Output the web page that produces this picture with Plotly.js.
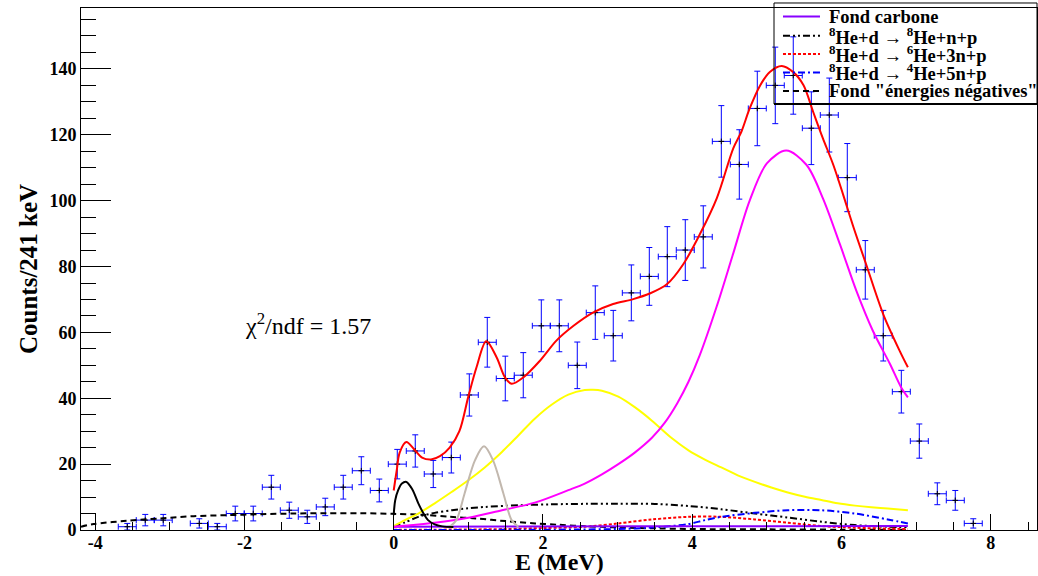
<!DOCTYPE html>
<html>
<head>
<meta charset="utf-8">
<script src="https://cdn.plot.ly/plotly-3.0.1.min.js"></script>
<style>html,body{margin:0;padding:0;background:#fff;}</style>
</head>
<body>
<div id="chart" style="width:1038px;height:576px;"></div>
<script>
// ---- measured spectrum (bin centres in MeV, counts per 241 keV) ----
const binEnergy = [-3.570, -3.329, -3.088, -2.605, -2.364, -2.123, -1.882, -1.640, -1.399, -1.158,
  -0.917, -0.676, -0.434, -0.193, 0.048, 0.289, 0.530, 0.772, 1.013, 1.254,
  1.495, 1.736, 1.978, 2.219, 2.460, 2.701, 2.942, 3.184, 3.425, 3.666,
  3.907, 4.148, 4.390, 4.631, 4.872, 5.113, 5.354, 5.596, 5.837, 6.078,
  6.319, 6.560, 6.802, 7.043, 7.284, 7.525, 7.766];
const binCounts = [1, 3, 3, 2, 1, 5, 5, 13, 6, 4,
  7, 13, 18, 12, 20, 24, 17, 22, 41, 57,
  46, 47, 62, 62, 50, 66, 59, 72, 77, 83,
  85, 89, 118, 111, 128, 135, 138, 122, 126, 107,
  79, 59, 42, 27, 11, 9, 2];
const halfBinWidth = 0.1205;

// ---- fit curves ----
const totalE = [0, 0.04, 0.08, 0.17, 0.27, 0.38, 0.50, 0.62, 0.75, 0.88, 1.0, 1.11, 1.24, 1.38, 1.49, 1.58, 1.74, 1.96, 2.18, 2.41, 2.67, 2.94, 3.21, 3.43, 3.66, 3.88, 4.10, 4.33, 4.55, 4.66, 4.77, 4.91, 5.04, 5.20, 5.35, 5.49, 5.62, 5.75, 5.89, 6.02, 6.16, 6.33, 6.56, 6.78, 6.89];
const totalC = [12, 18, 23.5, 26.7, 24.6, 22, 21.4, 22.4, 25, 30, 40.5, 49.4, 57.3, 52.4, 46.4, 44.4, 46.4, 51.4, 57.5, 62, 66, 68.6, 70.1, 71.8, 74.6, 80.7, 89.7, 100.8, 115.9, 121, 128, 135, 139.1, 140.9, 139.1, 135.1, 127, 119, 110.9, 102, 92, 80.7, 65.5, 54.4, 49.4];

const peakE = [0, 0.55, 1.0, 1.45, 1.89, 2.34, 2.56, 2.79, 3.01, 3.23, 3.46, 3.63, 3.80, 3.95, 4.10, 4.33, 4.55, 4.77, 5.0, 5.26, 5.53, 5.75, 5.98, 6.20, 6.42, 6.65, 6.80, 6.89];
const peakC = [1, 2.2, 3.7, 6, 8.3, 12.1, 14.1, 16.9, 20.0, 23.5, 28.0, 32.5, 38.5, 45.0, 53.0, 68.0, 84.0, 100.0, 111.3, 115.2, 110.9, 100.8, 86.7, 72.6, 60.5, 50.4, 43.3, 40.3];

const broadE = [0, 0.15, 0.33, 0.55, 0.78, 1.0, 1.22, 1.45, 1.67, 1.89, 2.12, 2.34, 2.56, 2.67, 2.79, 3.01, 3.23, 3.46, 3.72, 3.95, 4.17, 4.39, 4.61, 4.84, 5.06, 5.28, 5.51, 5.73, 5.95, 6.18, 6.40, 6.62, 6.89];
const broadC = [1.2, 3, 5, 8.1, 11.6, 15.1, 19, 23.7, 28.7, 33.8, 38.1, 41.1, 42.5, 42.6, 42.3, 40.5, 37.3, 33.2, 28, 24.2, 21.4, 19, 16.6, 14.6, 12.9, 11.4, 10.1, 9.1, 8.1, 7.4, 6.9, 6.5, 6];

const lowPeakE = [0, 0.02, 0.06, 0.11, 0.17, 0.25, 0.33, 0.40, 0.46, 0.55, 0.65, 0.80];
const lowPeakC = [4.5, 9, 12.1, 14.1, 14.6, 12.3, 8.1, 5, 3, 1.7, 1.1, 0.9];

const midPeakE = [0.75, 0.84, 0.95, 1.09, 1.21, 1.33, 1.47, 1.58, 1.67];
const midPeakC = [1, 3, 11.1, 21.2, 25.4, 21.2, 11.1, 3, 1];

const carbonE = [0, 3.5, 6.89];
const carbonC = [1.0, 1.15, 1.2];

const np8E = [0, 0.15, 0.33, 0.55, 0.78, 1.0, 1.22, 1.67, 2.12, 2.6, 3.0, 3.5, 3.95, 4.39, 4.84, 5.28, 5.73, 6.18, 6.62, 6.89];
const np8C = [1, 2.3, 4.0, 5.2, 6.0, 6.6, 7.0, 7.5, 7.8, 7.95, 8.0, 7.9, 7.3, 6.3, 5, 3.8, 2.5, 1.5, 1.0, 0.9];

const he6E = [0, 0.5, 1.0, 1.5, 2.0, 2.56, 3.01, 3.46, 3.95, 4.39, 4.84, 5.28, 5.73, 6.18, 6.62, 6.89];
const he6C = [0.05, 0.1, 0.15, 0.3, 0.6, 1.0, 2.0, 3.2, 4.0, 4.0, 3.2, 2.2, 1.2, 0.7, 0.4, 0.3];

const he4E = [0, 1.0, 2.0, 2.5, 3.0, 3.5, 3.95, 4.17, 4.39, 4.84, 5.28, 5.73, 6.18, 6.62, 6.89];
const he4C = [0, 0.02, 0.08, 0.15, 0.3, 0.8, 1.8, 3.0, 4.0, 5.2, 6.0, 6.0, 5.0, 3.2, 2.0];

const negE = [-4.19, -4.02, -3.58, -3.13, -2.68, -2.24, -1.79, -1.34, -0.90, -0.45, 0, 0.40, 0.75, 1.10, 1.50, 1.90, 2.20, 2.50, 3.0, 3.5, 4.0, 5.0, 6.0, 6.89];
const negC = [1, 1.8, 2.8, 3.5, 4.2, 4.5, 4.8, 5.0, 5.1, 5.1, 4.9, 4.6, 4.0, 3.5, 2.7, 2.0, 1.6, 1.2, 0.8, 0.5, 0.3, 0.2, 0.1, 0.1];

const legendLabels = [
  'Fond carbone',
  '<sup>8</sup>He+d \u2192 <sup>8</sup>He+n+p',
  '<sup>8</sup>He+d \u2192 <sup>6</sup>He+3n+p',
  '<sup>8</sup>He+d \u2192 <sup>4</sup>He+5n+p',
  'Fond "\u00e9nergies n\u00e9gatives"'
];
const xTickVals = [-4, -2, 0, 2, 4, 6, 8];
const yTickVals = [0, 20, 40, 60, 80, 100, 120, 140];

// ---- styles ----
const serif = 'Liberation Serif, Times New Roman, serif';
const legendStyles = [
  {color: '#8800ff', dash: 'solid'},
  {color: '#000000', dash: '7px,3px,2px,3px,2px,3px'},
  {color: '#ff0000', dash: '3px,2px'},
  {color: '#0000ff', dash: '7px,3px,2px,3px'},
  {color: '#000000', dash: '6px,4px'}
];

function curve(x, y, color, dash, width) {
  return {x: x, y: y, type: 'scatter', mode: 'lines', showlegend: false, hoverinfo: 'skip',
    line: {color: color, width: width || 2, dash: dash || 'solid', shape: 'spline', smoothing: 0.9}};
}

const traces = [
  {x: binEnergy, y: binCounts, type: 'scatter', mode: 'markers', showlegend: false,
    marker: {symbol: 'cross-thin', size: 4, color: '#000000', line: {color: '#000000', width: 1}},
    error_y: {type: 'sqrt', color: '#0000ff', thickness: 1, width: 3},
    error_x: {type: 'constant', value: halfBinWidth, color: '#0000ff', thickness: 1, width: 3}},
  curve(negE, negC, legendStyles[4].color, legendStyles[4].dash),
  curve(np8E, np8C, legendStyles[1].color, legendStyles[1].dash),
  curve(he6E, he6C, legendStyles[2].color, legendStyles[2].dash),
  curve(he4E, he4C, legendStyles[3].color, legendStyles[3].dash),
  curve(carbonE, carbonC, legendStyles[0].color, 'solid'),
  curve(totalE, totalC, '#ff0000', 'solid'),
  curve(broadE, broadC, '#ffff00', 'solid'),
  curve(peakE, peakC, '#ff00ff', 'solid'),
  curve(midPeakE, midPeakC, '#c2b8ae', 'solid'),
  curve(lowPeakE, lowPeakC, '#000000', 'solid')
];

// legend geometry (paper coordinates)
const legX0 = 0.7249, legX1 = 1.0, legY0 = 0.8161, legY1 = 1.0096;
const entryY = [0.9835, 0.9470, 0.9120, 0.8765, 0.8410];
const shapes = [
  {type: 'rect', xref: 'paper', yref: 'paper', x0: legX0, x1: legX1, y0: legY0, y1: legY1,
    line: {color: '#000000', width: 1}, fillcolor: 'rgba(0,0,0,0)', layer: 'above'},
  {type: 'line', xref: 'paper', yref: 'paper', x0: legX0, x1: legX1, y0: legY0, y1: legY0,
    line: {color: '#000000', width: 2}, layer: 'above'}
];
const annotations = [];
legendLabels.forEach(function (lab, i) {
  shapes.push({type: 'line', xref: 'paper', yref: 'paper', x0: 0.7343, x1: 0.7730,
    y0: entryY[i], y1: entryY[i], line: {color: legendStyles[i].color, width: 2, dash: legendStyles[i].dash}, layer: 'above'});
  annotations.push({xref: 'paper', yref: 'paper', x: 0.7800, y: entryY[i], xanchor: 'left', yanchor: 'middle',
    text: lab, showarrow: false, font: {family: serif, size: 18.5, color: '#000000', weight: 'bold'}});
});
annotations.push({xref: 'paper', yref: 'paper', x: 0.1695, y: 0.3946, xanchor: 'left', yanchor: 'middle',
  text: '\u03c7<sup>2</sup>/ndf = 1.57', showarrow: false, font: {family: serif, size: 24, color: '#000000'}});
annotations.push({xref: 'paper', yref: 'paper', x: 0.5, y: -0.0613, xanchor: 'center', yanchor: 'middle',
  text: 'E (MeV)', showarrow: false, font: {family: serif, size: 24, color: '#000000', weight: 'bold'}});
annotations.push({xref: 'paper', yref: 'paper', x: -0.0554, y: 0.5, xanchor: 'center', yanchor: 'middle', textangle: -90,
  text: 'Counts/241 keV', showarrow: false, font: {family: serif, size: 25, color: '#000000', weight: 'bold'}});

const layout = {
  width: 1038, height: 576,
  margin: {l: 81, r: 1, t: 8, b: 46},
  paper_bgcolor: '#ffffff', plot_bgcolor: '#ffffff',
  showlegend: false,
  xaxis: {range: [-4.19, 8.62], tickvals: xTickVals, ticktext: xTickVals.map(String),
    ticks: 'inside', ticklen: 16, tickwidth: 1, tickcolor: '#000000', ticklabelstandoff: -4,
    minor: {dtick: 0.5, tick0: 0, ticks: 'inside', ticklen: 8, tickcolor: '#000000', tickwidth: 1},
    showgrid: false, zeroline: false, showline: true, linecolor: '#000000', linewidth: 1, mirror: true,
    tickfont: {family: serif, size: 18, color: '#000000', weight: 'bold'}},
  yaxis: {range: [0, 158.5], tickvals: yTickVals, ticktext: yTickVals.map(String),
    ticks: 'inside', ticklen: 30, tickwidth: 1, tickcolor: '#000000',
    minor: {dtick: 5, tick0: 0, ticks: 'inside', ticklen: 15, tickcolor: '#000000', tickwidth: 1},
    showgrid: false, zeroline: false, showline: true, linecolor: '#000000', linewidth: 1, mirror: true,
    tickfont: {family: serif, size: 18, color: '#000000', weight: 'bold'}},
  shapes: shapes,
  annotations: annotations
};

Plotly.newPlot('chart', traces, layout, {displayModeBar: false, staticPlot: true});
</script>
</body>
</html>
